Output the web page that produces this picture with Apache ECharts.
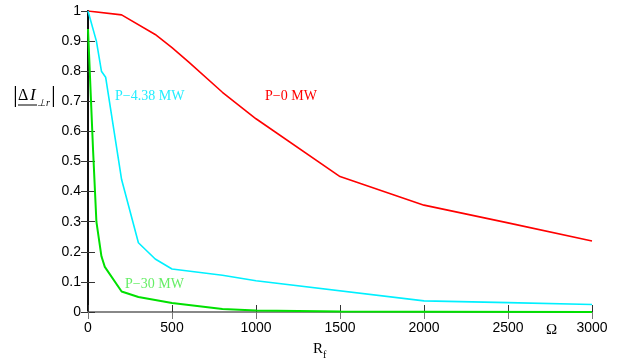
<!DOCTYPE html>
<html>
<head>
<meta charset="utf-8">
<script src="https://cdn.jsdelivr.net/npm/echarts@6/dist/echarts.min.js"></script>
<style>
  html, body { margin: 0; padding: 0; background: #fff; }
  #chart { width: 633px; height: 364px; }
</style>
</head>
<body>
<div id="chart"></div>
<script>
// values: [Rf (ohm), |dI|]
const p0 = [[0, 1], [200, 0.987], [400, 0.922], [500, 0.878], [600, 0.83], [800, 0.73],
  [1000, 0.642], [1500, 0.45], [2000, 0.355], [2500, 0.296], [3000, 0.236]];
const p438 = [[0, 1], [50, 0.9], [80, 0.8], [105, 0.78], [200, 0.44], [300, 0.23],
  [400, 0.176], [500, 0.143], [800, 0.122], [1000, 0.104], [2000, 0.037], [2500, 0.031], [3000, 0.025]];
const p30 = [[0, 0.94], [30, 0.54], [50, 0.3], [80, 0.185], [100, 0.15], [200, 0.068],
  [300, 0.05], [500, 0.03], [800, 0.01], [1000, 0.005], [1500, 0.002], [2000, 0.001], [3000, 0]];
const xTicks = [0, 500, 1000, 1500, 2000, 2500, 3000];
const yTicks = [0, 0.1, 0.2, 0.3, 0.4, 0.5, 0.6, 0.7, 0.8, 0.9, 1];

const chart = echarts.init(document.getElementById('chart'));

const tickStyle = { show: true, inside: true, length: 7, lineStyle: { color: '#333', width: 1 } };
const labelFont = { fontFamily: 'Liberation Sans', fontSize: 14, color: '#000' };
const serif = 'Liberation Serif';

chart.setOption({
  animation: false,
  grid: { left: 88, right: 41, top: 11, bottom: 52, containLabel: false },
  xAxis: [
    {
      type: 'value', min: 0, max: 3000, interval: 500, position: 'bottom',
      axisLine: { show: true, lineStyle: { color: '#333', width: 2 } },
      axisTick: tickStyle,
      axisLabel: Object.assign({ margin: 9, formatter: v => xTicks.includes(v) ? String(v) : '' }, labelFont),
      splitLine: { show: false }
    },
    {
      type: 'value', min: 0, max: 3000, interval: 500, position: 'top',
      axisLine: { show: true, lineStyle: { color: '#888', width: 2 } },
      axisTick: Object.assign({}, tickStyle, { lineStyle: { color: '#777' } }),
      axisLabel: { show: false },
      splitLine: { show: false }
    }
  ],
  yAxis: [
    {
      type: 'value', min: 0, max: 1, interval: 0.1, position: 'left',
      axisLine: { show: true, lineStyle: { color: '#444', width: 2 } },
      axisTick: tickStyle,
      axisLabel: Object.assign({ margin: 7, formatter: v => String(Math.round(v * 10) / 10) }, labelFont),
      splitLine: { show: false }
    },
    {
      type: 'value', min: 0, max: 1, interval: 0.1, position: 'right',
      axisLine: { show: true, lineStyle: { color: '#111', width: 2 } },
      axisTick: tickStyle,
      axisLabel: { show: false },
      splitLine: { show: false }
    }
  ],
  series: [
    { name: 'P=0 MW', type: 'line', data: p0, showSymbol: false, lineStyle: { color: '#ff0000', width: 1.6 } },
    { name: 'P=4.38 MW', type: 'line', data: p438, showSymbol: false, lineStyle: { color: '#00f0ff', width: 1.6 } },
    { name: 'P=30 MW', type: 'line', data: p30, showSymbol: false, lineStyle: { color: '#00e000', width: 2 } }
  ],
  graphic: [
    { type: 'text', left: 115, top: 89, style: { text: 'P\u22124.38 MW', font: '14px ' + serif, fill: '#22eeff' } },
    { type: 'text', left: 265, top: 89, style: { text: 'P\u22120 MW', font: '14px ' + serif, fill: '#ff0000' } },
    { type: 'text', left: 125, top: 277, style: { text: 'P\u221230 MW', font: '14px ' + serif, fill: '#66ee66' } },
    { type: 'text', left: 546, top: 323, style: { text: '\u03a9', font: '15px ' + serif, fill: '#000' } },
    { type: 'text', left: 313, top: 342, style: { text: 'R', font: '15px ' + serif, fill: '#000' } },
    { type: 'text', left: 323, top: 350, style: { text: 'f', font: '10px ' + serif, fill: '#000' } },
    // y-axis name |ΔI⊥r|
    { type: 'text', left: 13, top: 84, style: { text: '|', font: '24px ' + serif, fill: '#000' } },
    { type: 'text', left: 18, top: 88, style: { text: '\u0394', font: '16px ' + serif, fill: '#000' } },
    { type: 'text', left: 30, top: 87, style: { text: 'I', font: 'italic 17px ' + serif, fill: '#000' } },
    { type: 'line', shape: { x1: 18, y1: 105, x2: 37, y2: 105 }, style: { stroke: '#000', lineWidth: 1 } },
    { type: 'text', left: 37, top: 98, style: { text: '\u22a5r', font: 'italic 10px ' + serif, fill: '#000' } },
    { type: 'text', left: 51, top: 84, style: { text: '|', font: '24px ' + serif, fill: '#000' } }
  ]
});
</script>
</body>
</html>
